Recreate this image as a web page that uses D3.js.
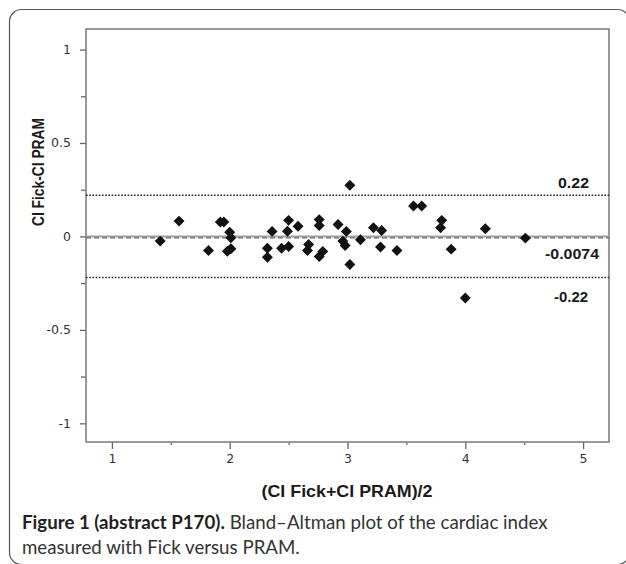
<!DOCTYPE html>
<html><head><meta charset="utf-8">
<script src="https://cdn.jsdelivr.net/npm/d3@7"></script>
<style>
body{margin:0;background:#fff;}
svg{display:block;}
</style></head>
<body>
<svg id="chart" width="626" height="564"></svg>
<script>
// ---- data ----
const meanCI = [1.41,1.57,1.82,1.92,1.95,2.00,2.01,2.01,1.98,2.32,2.32,2.36,2.44,2.50,2.49,2.50,2.58,2.67,2.66,2.76,2.76,2.79,2.76,2.92,2.99,2.96,2.98,3.02,3.02,3.11,3.22,3.29,3.28,3.42,3.56,3.63,3.80,3.79,3.88,4.17,4.51,4.00];
const diffCI = [-0.025,0.082,-0.075,0.077,0.077,0.023,-0.007,-0.066,-0.079,-0.063,-0.111,0.027,-0.063,-0.054,0.028,0.086,0.054,-0.043,-0.075,0.090,0.059,-0.080,-0.107,0.064,0.027,-0.025,-0.048,0.274,-0.150,-0.018,0.047,0.032,-0.057,-0.075,0.163,0.163,0.086,0.047,-0.068,0.041,-0.009,-0.329];
const biasValue = -0.0074;
const upperLoA = 0.22;
const lowerLoA = -0.22;
const xTicks = [1,2,3,4,5];
const xMinorTicks = [1.5,2.5,3.5,4.5];
const yTicks = [-1,-0.5,0,0.5,1];
const yMinorTicks = [-0.75,-0.25,0.25,0.75];
const xTitle = "(CI Fick+CI PRAM)/2";
const yTitle = "CI Fick-CI PRAM";
const captionBold = "Figure 1 (abstract P170).";
const captionRest1 = " Bland\u2013Altman plot of the cardiac index";
const captionLine2 = "measured with Fick versus PRAM.";

// ---- layout ----
const svg = d3.select("#chart");
const L = 86, R = 609, T = 29, B = 442;
const x = d3.scaleLinear().domain([0.78, 5.22]).range([L, R]);
const y = d3.scaleLinear().domain([-1.1, 1.11]).range([B, T]);

// panel border
svg.append("rect").attr("x",9.5).attr("y",9.5).attr("width",620).attr("height",555)
  .attr("rx",12).attr("fill","none").attr("stroke","#555").attr("stroke-width",1.2);

// axes
const yAxis = d3.axisLeft(y).tickValues(yTicks).tickSize(6).tickPadding(9)
  .tickFormat(d => d===0 ? "0" : String(d));
const gy = svg.append("g").attr("transform",`translate(${L},0)`).call(yAxis);
const gyMinor = svg.append("g").attr("transform",`translate(${L},0)`)
  .call(d3.axisLeft(y).tickValues(yMinorTicks).tickSize(5).tickFormat(""));
const xAxis = d3.axisBottom(x).tickValues(xTicks).tickSize(7).tickPadding(5).tickFormat(d3.format("d"));
const gx = svg.append("g").attr("transform",`translate(0,${B})`).call(xAxis);
const gxMinor = svg.append("g").attr("transform",`translate(0,${B})`)
  .call(d3.axisBottom(x).tickValues(xMinorTicks).tickSize(3).tickFormat(""));
[gy,gyMinor,gx,gxMinor].forEach(g=>{
  g.select(".domain").remove();
  g.selectAll(".tick line").attr("stroke","#666").attr("stroke-width",1.3);
  g.selectAll(".tick text").attr("fill","#333").style("font-family","'DejaVu Sans', sans-serif").style("font-size","12.5px");
});

// frame
svg.append("rect").attr("x",L).attr("y",T).attr("width",R-L).attr("height",B-T)
  .attr("fill","none").attr("stroke","#808080").attr("stroke-width",1.6);

// reference lines
svg.append("line").attr("x1",L).attr("x2",R).attr("y1",y(0)).attr("y2",y(0))
  .attr("stroke","#a0a0a0").attr("stroke-width",2);
svg.append("line").attr("x1",L).attr("x2",R).attr("y1",y(biasValue)).attr("y2",y(biasValue))
  .attr("stroke","#666").attr("stroke-width",1.2).attr("stroke-dasharray","5,3");
[upperLoA, lowerLoA].forEach(v=>{
  svg.append("line").attr("x1",L).attr("x2",R).attr("y1",y(v)).attr("y2",y(v))
    .attr("stroke","#222").attr("stroke-width",1.6).attr("stroke-dasharray","1.6,1.6");
});

// points
const diamond = d3.symbol().type(d3.symbolSquare).size(60);
svg.append("g").selectAll("path").data(meanCI.map((m,i)=>[m,diffCI[i]])).join("path")
  .attr("d",diamond)
  .attr("transform",d=>`translate(${x(d[0])},${y(d[1])}) rotate(45)`)
  .attr("fill","#111");

// line labels
const labFont = "'Liberation Sans', Arial, sans-serif";
function lineLabel(txt, v, dy, xEnd, len){
  svg.append("text").attr("x",xEnd).attr("y",y(v)+dy).attr("text-anchor","end")
    .attr("textLength",len).attr("lengthAdjust","spacingAndGlyphs")
    .style("font-family",labFont).style("font-weight","bold").style("font-size","15px")
    .attr("fill","#1a1a1a").text(txt);
}
lineLabel(String(upperLoA), upperLoA, -7.5, 589, 31);
lineLabel(String(biasValue), biasValue, 21.5, 599, 54);
lineLabel(String(lowerLoA), lowerLoA, 24, 588, 34);

// axis titles
svg.append("text").attr("x",(L+R)/2 - 0.5).attr("y",497).attr("text-anchor","middle")
  .attr("textLength",171).attr("lengthAdjust","spacingAndGlyphs")
  .style("font-family",labFont).style("font-weight","bold").style("font-size","16.5px")
  .attr("fill","#1a1a1a").text(xTitle);
svg.append("text").attr("transform","translate(44,172) rotate(-90)").attr("text-anchor","middle")
  .attr("textLength",108).attr("lengthAdjust","spacingAndGlyphs")
  .style("font-family",labFont).style("font-weight","bold").style("font-size","16.5px")
  .attr("fill","#1a1a1a").text(yTitle);

// caption
const capFont = "Lato, 'Open Sans', sans-serif";
const cap1 = svg.append("text").attr("x",22).attr("y",529).style("font-family",capFont).style("font-size","16px");
cap1.append("tspan").style("font-weight","bold").attr("fill","#231f20").text(captionBold);
cap1.append("tspan").attr("fill","#333").text(captionRest1);
const cap2 = svg.append("text").attr("x",22).attr("y",554).style("font-family",capFont).style("font-size","16px")
  .attr("fill","#333").text(captionLine2);
// fit caption font to target width
const w1 = cap1.node().getComputedTextLength();
const fs = 16 * 526 / w1;
cap1.style("font-size", fs + "px");
cap2.style("font-size", fs + "px");
</script>
</body></html>
